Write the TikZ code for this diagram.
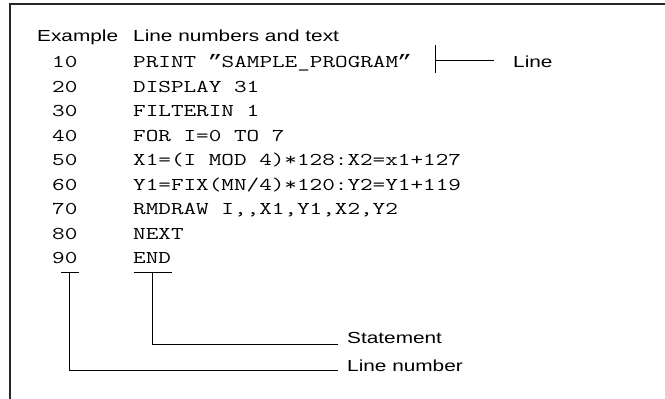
\documentclass[tikz,border=0pt]{standalone}
\usepackage{fontspec}
\setmainfont{Liberation Sans}
\newfontfamily\qmono{Liberation Mono}
\newcommand\wideS[1]{\scalebox{1.3}[1]{#1}}
\newcommand\wideT[1]{\scalebox{1.36}[1]{#1}}
\newcommand\cq{\makebox[0.525em]{\qmono ”}}
\begin{document}
\begin{tikzpicture}[x=1pt,y=-1pt,
  lbl/.style={inner sep=0pt,anchor=base west,font=\fontsize{16}{16}\selectfont},
  code/.style={inner sep=0pt,anchor=base west,font=\fontsize{18}{18}\selectfont\ttfamily},
  frame/.style={line width=1.4pt,draw=black!85},
  lead/.style={line width=1pt,draw=black}]
\useasboundingbox (0,0) rectangle (665,399);
\draw[frame] (10,399) -- (10,4) -- (665,4);
% header
\node[lbl] (hex) at (37,41) {\wideS{Example}};
\node[lbl] (hln) at (133,41) {\wideS{Line numbers and text}};
% code rows
\foreach \n/\t [count=\i from 0] in {10/{PRINT \cq SAMPLE\_PROGRAM\cq},20/{DISPLAY 31},30/{FILTERIN 1},40/{FOR I=0 TO 7},50/{X1=(I MOD 4)*128:X2=x1+127},60/{Y1=FIX(MN/4)*120:Y2=Y1+119},70/{RMDRAW I,,X1,Y1,X2,Y2},80/{NEXT},90/{END}}{
  \node[code] (num\n) at (52,67.5+24.5*\i) {\wideT{\n}};
  \node[code] (txt\n) at (133,67.5+24.5*\i) {\wideT{\t}};
}
% Line label
\coordinate (lbT) at (435,45);
\coordinate (lbB) at (435,73);
\coordinate (lbM) at (435,60.5);
\coordinate (lbE) at (494,60.5);
\node[lbl,anchor=west] (line) at (513,62) {\wideS{Line}};
\draw[lead] (lbT) -- (lbB);
\draw[lead] (lbM) -- (lbE);
% ticks under 90 END
\coordinate (nL) at (61,272);
\coordinate (nR) at (79,272);
\coordinate (nM) at (69,272);
\coordinate (sL) at (134,272);
\coordinate (sR) at (172,272);
\coordinate (sM) at (152,272);
\node[lbl,anchor=west] (stmt) at (347,338) {\wideS{Statement}};
\node[lbl,anchor=west] (lnum) at (347,366) {\wideS{Line number}};
\coordinate (sE) at (338,344);
\coordinate (nE) at (338,370);
\draw[lead] (nL) -- (nR);
\draw[lead] (sL) -- (sR);
\draw[lead] (sM) |- (sE);
\draw[lead] (nM) |- (nE);
\end{tikzpicture}
\end{document}
